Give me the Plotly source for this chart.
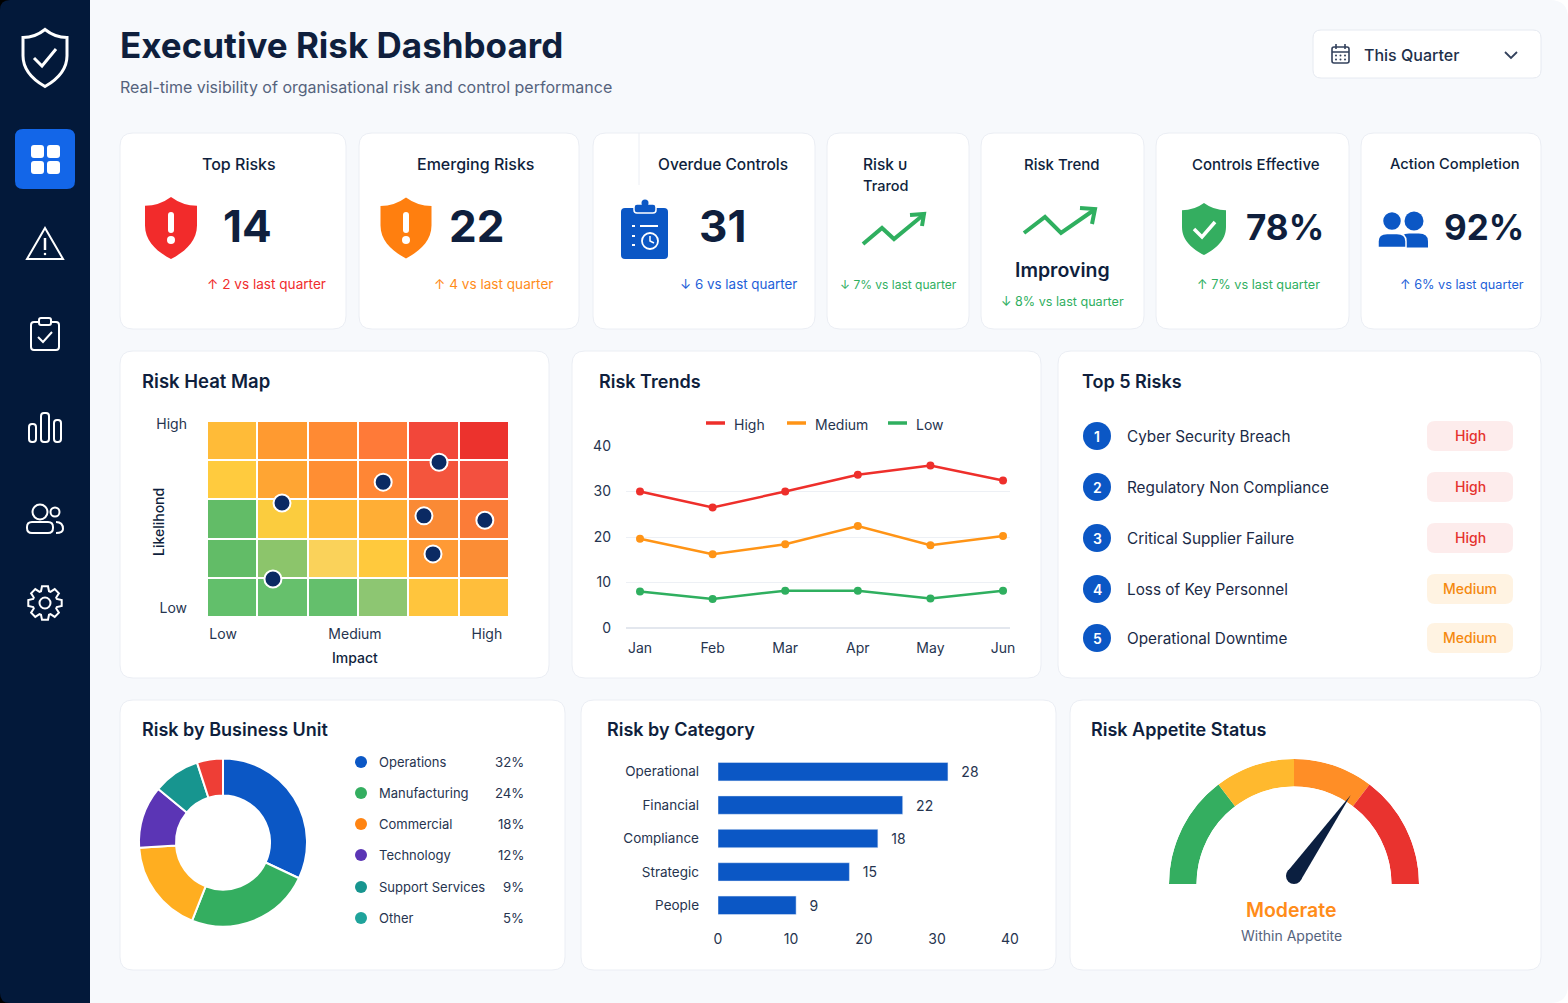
import math
import plotly.graph_objects as go

W = 1568
H = 1003
FONT = "Inter"
NAVY = "#0F1F3D"
GREY = "#55637D"
BLUE = "#0B57C5"
GREEN = "#2FAF5F"
ORANGE = "#FF8C1A"
RED = "#F02D2D"

# heat map
heat_x = [0.5, 1.5, 2.5, 3.5, 4.5, 5.5]
heat_y = [0.5, 1.5, 2.5, 3.5, 4.5]
# colours of the cells, bottom row first
heat_colors = [
    ["#62BF6B", "#66C06C", "#64BF6C", "#8DC672", "#FFC53D", "#FFBE3B"],
    ["#62BC67", "#8CC56B", "#FAD25A", "#FFC93D", "#FF9A35", "#FB8D35"],
    ["#62BC67", "#FBCC3E", "#FFBA38", "#FFAE35", "#FA8A35", "#FB7C38"],
    ["#FFCB3E", "#FFA533", "#FF8E33", "#FF8635", "#F4553D", "#F3503F"],
    ["#FFBB38", "#FF9A30", "#FF8A33", "#FF7A38", "#F2473A", "#EC322D"],
]
heat_risk_x = [4.61, 3.50, 1.49, 4.31, 5.52, 4.49, 1.31]
heat_risk_y = [3.95, 3.44, 2.91, 2.58, 2.47, 1.61, 0.97]

# trends
months = ["Jan", "Feb", "Mar", "Apr", "May", "Jun"]
trend_high = [30, 26.5, 30, 33.7, 35.7, 32.4]
trend_medium = [19.6, 16.2, 18.4, 22.4, 18.2, 20.2]
trend_low = [8, 6.4, 8.2, 8.2, 6.5, 8.2]

# top 5
top_risks = ["Cyber Security Breach", "Regulatory Non Compliance", "Critical Supplier Failure",
             "Loss of Key Personnel", "Operational Downtime"]
top_levels = ["High", "High", "High", "Medium", "Medium"]

# business units
units = ["Operations", "Manufacturing", "Commercial", "Technology", "Support Services", "Other"]
unit_share = [32, 24, 18, 12, 9, 5]
unit_slice_colors = ["#0B57C5", "#34AE60", "#FFAE20", "#5B35B5", "#17958F", "#EE3E36"]
unit_dot_colors = ["#0B57C5", "#34AE60", "#FF8412", "#5B35B5", "#17958F", "#1FA39B"]

# categories: the printed labels and the bars do not agree with the axis in
# the picture, so the lengths are read against the axis and the labels kept as printed
categories = ["Operational", "Financial", "Compliance", "Strategic", "People"]
category_lengths = [31.5, 25.3, 21.9, 18.0, 10.7]
category_labels = ["28", "22", "18", "15", "9"]

# gauge, widths of the bands in degrees
gauge_bands = [52.8, 37.2, 37.2, 52.8]
gauge_colors = ["#34AE60", "#FFB92E", "#FF8E26", "#E9332F"]
gauge_needle = 125  # degrees from the left end


def dom_x(a, b):
    return [a / W, b / W]


def dom_y(top, bottom):
    return [1 - bottom / H, 1 - top / H]


shapes = []
notes = []


def shape_path(path, fill="rgba(0,0,0,0)", color="rgba(0,0,0,0)", width=0, layer="above"):
    shapes.append(dict(type="path", xref="x", yref="y", path=path, fillcolor=fill, layer=layer,
                       line=dict(color=color, width=width)))


def circle(cx, cy, r, fill="rgba(0,0,0,0)", color="rgba(0,0,0,0)", width=0, layer="above"):
    shapes.append(dict(type="circle", xref="x", yref="y", x0=cx - r, x1=cx + r, y0=cy - r, y1=cy + r,
                       fillcolor=fill, layer=layer, line=dict(color=color, width=width)))


def rrect(x0, y0, x1, y1, r):
    return (f"M{x0 + r},{y0} L{x1 - r},{y0} Q{x1},{y0} {x1},{y0 + r} L{x1},{y1 - r} Q{x1},{y1} {x1 - r},{y1} "
            f"L{x0 + r},{y1} Q{x0},{y1} {x0},{y1 - r} L{x0},{y0 + r} Q{x0},{y0} {x0 + r},{y0} Z")


def line_path(points):
    return "M" + " L".join(f"{x},{y}" for x, y in points)


def text(x, y, s, size=14, color=NAVY, anchor="left", weight=400, angle=0):
    # annotations sit 2px inside their anchor
    shift = {"left": -2, "right": 2, "center": 0}[anchor]
    notes.append(dict(xref="x", yref="y", x=x + shift, y=y, text=s, showarrow=False, xanchor=anchor, yanchor="middle",
                      textangle=angle, font=dict(family=FONT, size=size, color=color, weight=weight)))


def shield(cx, cy, w, h):
    a = w / 2
    b = h / 2
    def p(u, v):
        return f"{cx + u * a:.1f},{cy + v * b:.1f}"
    return (f"M{p(0, -1)} Q{p(.45, -.72)} {p(1, -.72)} L{p(1, -.08)} C{p(1, .45)} {p(.5, .78)} {p(0, 1)} "
            f"C{p(-.5, .78)} {p(-1, .45)} {p(-1, -.08)} L{p(-1, -.72)} Q{p(-.45, -.72)} {p(0, -1)} Z")


def card(x0, y0, x1, y1):
    shape_path(rrect(x0, y0, x1, y1, 13), fill="#FFFFFF", color="#EBEEF4", width=1, layer="below")


def person(cx, cy, r, body_w, body_h, **kw):
    circle(cx, cy, r, **kw)
    top = cy + r + 3
    shape_path(f"M{cx - body_w},{top + body_h} L{cx - body_w},{top + body_h * .55} Q{cx - body_w},{top} {cx - body_w * .35},{top} "
               f"L{cx + body_w * .35},{top} Q{cx + body_w},{top} {cx + body_w},{top + body_h * .55} L{cx + body_w},{top + body_h} Z", **kw)


def gear(cx, cy, r_out, r_in, teeth=8):
    pts = []
    step = 2 * math.pi / teeth
    for i in range(teeth):
        a = i * step - math.pi / 2
        for da, r in [(-.30, r_in), (-.16, r_out), (.16, r_out), (.30, r_in)]:
            pts.append((round(cx + r * math.cos(a + da * step * 1.4), 1), round(cy + r * math.sin(a + da * step * 1.4), 1)))
    return line_path(pts) + " Z"


# page chrome
shape_path(f"M0,0 L90,0 L90,{H} L0,{H} Z", fill="#03193A", layer="below")
# rounded corners of the page
shape_path("M0,0 L10,0 Q0,0 0,10 Z", fill="#000000", layer="below")
shape_path(f"M0,{H} L10,{H} Q0,{H} 0,{H - 10} Z", fill="#000000", layer="below")
shape_path(f"M{W},0 L{W - 18},0 Q{W},0 {W},18 Z", fill="#FFFFFF", layer="below")
shape_path(f"M{W},{H} L{W - 18},{H} Q{W},{H} {W},{H - 18} Z", fill="#FFFFFF", layer="below")

# sidebar icons
shape_path(shield(45, 58, 44, 57), color="#FFFFFF", width=3)
shape_path(line_path([(34, 58), (42, 66), (56, 49)]), color="#FFFFFF", width=3)
shape_path(rrect(15, 129, 75, 189, 8), fill="#1366E8")
for bx in (31, 47):
    for by in (145, 161):
        shape_path(rrect(bx, by, bx + 13, by + 13, 3), fill="#FFFFFF")
shape_path("M45,228 L63,259 L27,259 Z", color="#FFFFFF", width=2)
shape_path("M45,238 L45,250", color="#FFFFFF", width=2.5)
circle(45, 254, 1.3, fill="#FFFFFF")
shape_path(rrect(31, 322, 59, 350, 3), color="#FFFFFF", width=2)
shape_path(rrect(39, 318, 51, 325, 2), fill="#03193A", color="#FFFFFF", width=2)
shape_path(line_path([(38, 337), (43, 342), (52, 332)]), color="#FFFFFF", width=2)
shape_path(rrect(29, 424, 36, 442, 3), color="#FFFFFF", width=2)
shape_path(rrect(41, 413, 49, 442, 3), color="#FFFFFF", width=2)
shape_path(rrect(54, 420, 61, 442, 3), color="#FFFFFF", width=2)
circle(40, 512, 7.5, color="#FFFFFF", width=2)
shape_path(rrect(27, 522, 53, 533, 5), color="#FFFFFF", width=2)
circle(55, 512, 4.5, color="#FFFFFF", width=2)
shape_path("M56,522 Q63,522 63,529 Q63,533 56,533", color="#FFFFFF", width=2)
shape_path(gear(45, 603, 17, 12.5), color="#FFFFFF", width=2)
circle(45, 603, 5.5, color="#FFFFFF", width=2)

# header
text(120, 45, "Executive Risk Dashboard", size=35, weight=700)
text(120, 87, "Real-time visibility of organisational risk and control performance", size=16, color=GREY)
shape_path(rrect(1313, 30, 1541, 78, 8), fill="#FFFFFF", color="#E6EAF1", width=1, layer="below")
shape_path(rrect(1332, 47, 1349, 63, 2), color="#33415C", width=1.6)
shape_path("M1332,52 L1349,52 M1336,44 L1336,49 M1345,44 L1345,49", color="#33415C", width=1.6)
for dx in (1336, 1340.5, 1345):
    for dy in (55.5, 59.5):
        circle(dx, dy, 1, fill="#33415C")
text(1364, 55, "This Quarter", size=16, color="#22304A", weight=500)
shape_path(line_path([(1505, 52), (1511, 58), (1517, 52)]), color="#33415C", width=1.8)

# kpi cards
for box in [(120, 346), (359, 579), (593, 815), (827, 969), (981, 1144), (1156, 1349), (1361, 1541)]:
    card(box[0], 133, box[1], 329)
shape_path("M639,133 L639,185", color="#EBEEF4", width=1)

text(239, 164, "Top Risks", size=16, anchor="center", weight=500)
shape_path(shield(171, 228, 52, 62), fill="#F22B2B")
shape_path(rrect(168, 212, 174, 233, 3), fill="#FFFFFF")
circle(171, 240, 4, fill="#FFFFFF")
text(247, 226, "14", size=44, anchor="center", weight=700)
text(266, 284, "↑ 2 vs last quarter", size=13.6, color=RED, anchor="center")

text(475, 164, "Emerging Risks", size=16, anchor="center", weight=500)
shape_path(shield(406, 228, 51, 61), fill="#FF7F0F")
shape_path(rrect(403, 212, 409, 233, 3), fill="#FFFFFF")
circle(406, 240, 4, fill="#FFFFFF")
text(476, 226, "22", size=44, anchor="center", weight=700)
text(493, 284, "↑ 4 vs last quarter", size=13.6, color=ORANGE, anchor="center")

text(723, 164, "Overdue Controls", size=15.5, anchor="center", weight=500)
shape_path(rrect(621, 208, 668, 259, 4), fill=BLUE)
shape_path(rrect(634, 204, 656, 213, 3), fill=BLUE, color="#FFFFFF", width=1.5)
circle(645, 203, 3.5, fill=BLUE)
shape_path("M640,226 L658,226 M632,226 L635,226 M632,236 L635,236 M632,245 L635,245", color="#FFFFFF", width=2)
circle(650, 241, 8, fill=BLUE, color="#FFFFFF", width=1.8)
shape_path("M650,236 L650,241 L654,243", color="#FFFFFF", width=1.5)
text(722, 226, "31", size=44, anchor="center", weight=700)
text(738, 284, "↓ 6 vs last quarter", size=13.4, color="#1E5FD8", anchor="center")

text(863, 164, "Risk υ", size=15.5, weight=500)
text(863, 185, "Trarod", size=14.5, weight=500)
shape_path(line_path([(863, 244), (882, 228), (894, 239), (922, 216)]), color=GREEN, width=4)
shape_path(line_path([(910, 215), (924, 214), (922, 226)]), color=GREEN, width=4)
text(898, 284, "↓ 7% vs last quarter", size=12, color=GREEN, anchor="center")

text(1062, 164, "Risk Trend", size=15, anchor="center", weight=500)
shape_path(line_path([(1024, 233), (1045, 217), (1061, 233), (1094, 210)]), color=GREEN, width=4)
shape_path(line_path([(1080, 208), (1095, 209), (1092, 224)]), color=GREEN, width=4)
text(1062, 270, "Improving", size=19.5, anchor="center", weight=600)
text(1062, 301, "↓ 8% vs last quarter", size=12.6, color=GREEN, anchor="center")

text(1256, 164, "Controls Effective", size=15, anchor="center", weight=500)
shape_path(shield(1204, 229, 44, 52), fill="#34AE60")
shape_path(line_path([(1194, 229), (1202, 237), (1215, 222)]), color="#FFFFFF", width=3.5)
text(1285, 227, "78%", size=35, anchor="center", weight=700)
text(1258, 284, "↑ 7% vs last quarter", size=12.7, color=GREEN, anchor="center")

text(1455, 164, "Action Completion", size=14.7, anchor="center", weight=500)
person(1414, 221, 9.5, 14, 14, fill="#0B57C5")
person(1392, 221, 9.5, 14, 14, fill="#0B57C5", color="#FFFFFF", width=1.5)
text(1484, 227, "92%", size=35, anchor="center", weight=700)
text(1462, 284, "↑ 6% vs last quarter", size=12.7, color="#1E5FD8", anchor="center")

# panels
for box in [(120, 351, 549, 678), (572, 351, 1041, 678), (1058, 351, 1541, 678),
            (120, 700, 565, 970), (581, 700, 1056, 970), (1070, 700, 1541, 970)]:
    card(*box)
text(142, 381, "Risk Heat Map", size=18.5, weight=600)
text(599, 381, "Risk Trends", size=18, weight=600)
text(1082, 381, "Top 5 Risks", size=18, weight=600)
text(142, 729, "Risk by Business Unit", size=18, weight=600)
text(607, 729, "Risk by Category", size=18, weight=600)
text(1091, 729, "Risk Appetite Status", size=18, weight=600)
text(355, 657, "Impact", size=14, anchor="center", weight=500)
text(158, 522, "Likelihond", size=14, anchor="center", weight=500, angle=-90)

fig = go.Figure()
# empty trace so the page axes exist for the shapes and text
fig.add_trace(go.Scatter(x=[], y=[], xaxis="x", yaxis="y", showlegend=False))

# heat map
flat = sorted({c for row in heat_colors for c in row})
scale = [[i / (len(flat) - 1), c] for i, c in enumerate(flat)]
heat_z = [[flat.index(c) for c in row] for row in heat_colors]
fig.add_trace(go.Heatmap(x=heat_x, y=heat_y, z=heat_z, colorscale=scale, zmin=0, zmax=len(flat) - 1, xgap=2, ygap=2,
                         showscale=False, hoverinfo="skip", xaxis="x2", yaxis="y2"))
fig.add_trace(go.Scatter(x=heat_risk_x, y=heat_risk_y, mode="markers", xaxis="x2", yaxis="y2", showlegend=False,
                         marker=dict(size=17, color="#0B2A63", line=dict(color="#FFFFFF", width=2))))

# trends
trend_series = [("High", trend_high, "#EE2F2B"), ("Medium", trend_medium, "#FF9416"), ("Low", trend_low, "#2FAF5F")]
for name, vals, col in trend_series:
    fig.add_trace(go.Scatter(x=months, y=vals, name=name, mode="lines+markers", xaxis="x3", yaxis="y3", showlegend=False,
                             line=dict(color=col, width=2.5), marker=dict(size=8, color=col)))
for (name, vals, col), lx in zip(trend_series, [706, 787, 888]):
    shape_path(f"M{lx},423 L{lx + 19},423", color=col, width=3.5)
    text(lx + 28, 424, name, size=14, color="#26344F")

# top 5 list
for i, (name, level) in enumerate(zip(top_risks, top_levels)):
    yy = [436, 487, 538, 589, 638][i]
    circle(1097, yy, 14, fill=BLUE)
    text(1097, yy, str(i + 1), size=14, color="#FFFFFF", anchor="center", weight=600)
    text(1127, yy, name, size=15.3, color="#1A2A47")
    pill = "#FDECEC" if level == "High" else "#FFF3E2"
    ink = "#E5322D" if level == "High" else "#F5890F"
    shape_path(rrect(1427, yy - 15, 1513, yy + 15, 8), fill=pill)
    text(1470, yy - 1, level, size=14, color=ink, anchor="center", weight=500)

# donut
fig.add_trace(go.Pie(labels=units, values=unit_share, hole=0.56, sort=False, direction="clockwise", rotation=0,
                     textinfo="none", showlegend=False, domain=dict(x=dom_x(139, 307), y=dom_y(758, 927)),
                     marker=dict(colors=unit_slice_colors, line=dict(color="#FFFFFF", width=2))))
for i, (name, share) in enumerate(zip(units, unit_share)):
    yy = [762, 793, 824, 855, 887, 918][i]
    circle(361, yy, 6, fill=unit_dot_colors[i])
    text(379, yy, name, size=13, color="#26344F")
    text(524, yy, f"{share}%", size=13.2, color="#26344F", anchor="right")

# bars
fig.add_trace(go.Bar(x=category_lengths, y=categories, orientation="h", text=category_labels, textposition="outside",
                     texttemplate="\u00a0\u00a0\u2009%{text}", cliponaxis=False, xaxis="x4", yaxis="y4", marker_color=BLUE,
                     showlegend=False, textfont=dict(family=FONT, size=14, color="#26344F")))

# gauge
band_theta = []
start = 0
for b in gauge_bands:
    band_theta.append(start + b / 2)
    start += b
fig.add_trace(go.Barpolar(r=[1] * len(gauge_bands), theta=band_theta, width=gauge_bands, marker_color=gauge_colors,
                          marker_line_width=0, subplot="polar", showlegend=False))
hub_x, hub_y = 1294, 876
ang = math.radians(gauge_needle)
nx, ny = -math.cos(ang), -math.sin(ang)
px_, py_ = -ny, nx
shape_path(f"M{hub_x + nx * 99:.1f},{hub_y + ny * 99:.1f} L{hub_x + px_ * 8:.1f},{hub_y + py_ * 8:.1f} "
           f"L{hub_x - px_ * 8:.1f},{hub_y - py_ * 8:.1f} Z", fill="#0B1F40")
circle(hub_x, hub_y, 8, fill="#0B1F40")
text(1291, 910, "Moderate", size=19.5, color=ORANGE, anchor="center", weight=600)
text(1291, 935, "Within Appetite", size=14, color=GREY, anchor="center")

tick_font = dict(family=FONT, size=14, color="#26344F")
fig.update_layout(
    width=W,
    height=H,
    margin=dict(l=0, r=0, t=0, b=0, autoexpand=False),
    paper_bgcolor="#F7F9FC",
    plot_bgcolor="rgba(0,0,0,0)",
    shapes=shapes,
    annotations=notes,
    xaxis=dict(range=[0, W], domain=[0, 1], visible=False, fixedrange=True),
    yaxis=dict(range=[H, 0], domain=[0, 1], visible=False, fixedrange=True),
    xaxis2=dict(anchor="y2", domain=dom_x(207, 509), range=[0, 6], showgrid=False, zeroline=False, ticks="",
                tickvals=[0.32, 2.94, 5.56], ticktext=["Low", "Medium", "High"], tickfont=tick_font, ticklabelstandoff=7),
    yaxis2=dict(anchor="x2", domain=dom_y(421, 617), range=[0, 5], showgrid=False, zeroline=False, ticks="",
                tickvals=[0.23, 4.92], ticktext=["Low", "High"], tickfont=tick_font, ticklabelstandoff=19),
    xaxis3=dict(anchor="y3", domain=dom_x(626, 1010), range=[-0.193, 5.096], showgrid=False, zeroline=False, ticks="",
                tickfont=tick_font, ticklabelstandoff=10),
    yaxis3=dict(anchor="x3", domain=dom_y(446, 628), range=[0, 40], dtick=10, gridcolor="#EDF0F5", zeroline=True,
                zerolinecolor="#E3E7EE", tickfont=tick_font, ticklabelstandoff=14, ticks=""),
    xaxis4=dict(anchor="y4", domain=dom_x(718, 1010), range=[0, 40], dtick=10, showgrid=False, zeroline=False, ticks="",
                tickfont=tick_font, ticklabelstandoff=7),
    yaxis4=dict(anchor="x4", domain=dom_y(755, 922), autorange="reversed", showgrid=False, zeroline=False, ticks="",
                tickfont=dict(family=FONT, size=13.5, color="#26344F"), ticklabelstandoff=18),
    bargap=0.45,
    polar=dict(domain=dict(x=dom_x(1169, 1419), y=dom_y(759, 884)), sector=[0, 180], hole=0.78, bgcolor="rgba(0,0,0,0)",
               radialaxis=dict(visible=False, range=[0, 1]),
               angularaxis=dict(visible=False, direction="clockwise", rotation=180)),
)

fig.write_html("out.html", config={"displayModeBar": False}, post_script="document.body.style.margin='0';")
